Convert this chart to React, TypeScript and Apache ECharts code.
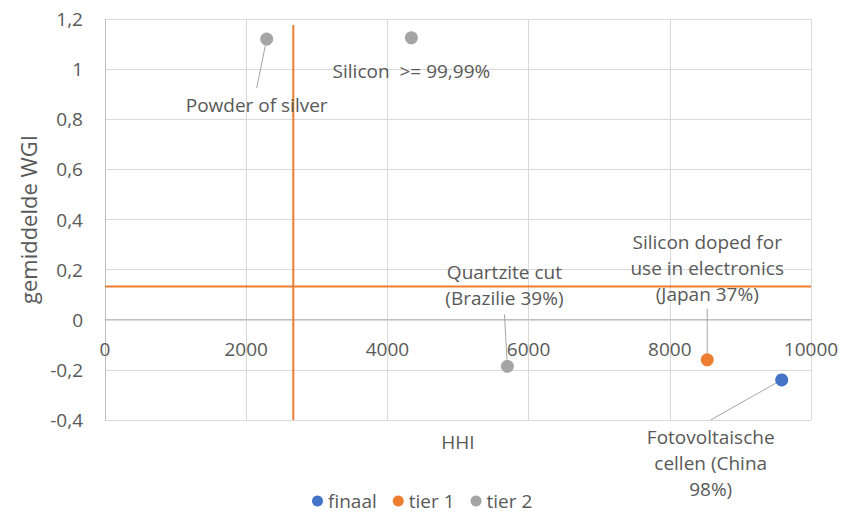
import React, { useEffect, useRef } from "react";
import * as echarts from "echarts";

// ---- data ----
const legendNames = ["finaal", "tier 1", "tier 2"];

const finaalNames = ["Fotovoltaische\ncellen (China\n98%)"];
const finaalHHI = [9585];
const finaalWGI = [-0.24];

const tier1Names = ["Silicon doped for\nuse in electronics\n(Japan 37%)"];
const tier1HHI = [8530];
const tier1WGI = [-0.16];

const tier2Names = ["Powder of silver", "Silicon  >= 99,99%", "Quartzite cut\n(Brazilie 39%)"];
const tier2HHI = [2290, 4340, 5700];
const tier2WGI = [1.12, 1.125, -0.186];

const thresholdHHI = 2667;
const thresholdWGI = 0.133;
const vLineWGI = [-0.4, 1.176];
const hLineHHI = [0, 10000];

const xMin = 0, xMax = 10000, xStep = 2000;
const yMin = -0.4, yMax = 1.2, yStep = 0.2;

// ---- layout / label placement (styles, not data) ----
type LabelCfg = { offset: number[]; padding: number[]; line: boolean };
const finaalLabels: LabelCfg[] = [{ offset: [-71, 83], padding: [8, 0, 0, 0], line: true }];
const tier1Labels: LabelCfg[] = [{ offset: [0, -92], padding: [0, 0, 4, 0], line: true }];
const tier2Labels: LabelCfg[] = [
  { offset: [-10, 66], padding: [8, 0, 0, 0], line: true },
  { offset: [0, 33], padding: [0, 0, 0, 0], line: false },
  { offset: [-3, -81], padding: [0, 0, 6, 0], line: true },
];

const W = 845, H = 515;
const GRID = { left: 105, right: 34, top: 19, bottom: 95 };

const FONT = "'Open Sans', sans-serif";
const TXT = "#595959";

function buildData(names: string[], xs: number[], ys: number[], cfg: LabelCfg[]) {
  return names.map((n, i) => ({
    name: n,
    value: [xs[i], ys[i]],
    label: { padding: cfg[i].padding },
    labelLine: { show: cfg[i].line },
  }));
}

const fmtNum = (v: number) => String(Number(v.toFixed(1))).replace(".", ",");
const fmtInt = (v: number) => String(Math.round(v));

export default function App() {
  const ref = useRef<HTMLDivElement>(null);
  useEffect(() => {
    if (!ref.current) return;
    const chart = echarts.init(ref.current, null, { renderer: "svg" });
    // second grid ends exactly at the zero line of the main y axis, so its x-axis labels sit on y = 0
    const plotH = H - GRID.top - GRID.bottom;
    const zeroFromTop = (yMax / (yMax - yMin)) * plotH;
    const labelGridBottom = H - GRID.top - zeroFromTop;

    const labelBase = {
      show: true,
      formatter: "{b}",
      position: "inside",
      color: TXT,
      fontSize: 19,
      fontFamily: FONT,
      lineHeight: 26,
      align: "center",
      backgroundColor: "rgba(255,255,255,0)",
    };
    const labelLineBase = { show: true, length2: 0, lineStyle: { color: "#a6a6a6", width: 1 } };
    const scatter = (name: string, color: string, data: any[], cfg: LabelCfg[]) => ({
      name,
      type: "scatter",
      symbol: "circle",
      symbolSize: 13,
      itemStyle: { color, opacity: 1 },
      label: labelBase,
      labelLine: labelLineBase,
      labelLayout: (p: any) => ({ dx: cfg[p.dataIndex].offset[0], dy: cfg[p.dataIndex].offset[1], hideOverlap: false }),
      data,
      z: 5,
    });
    chart.setOption({
      animation: false,
      textStyle: { fontFamily: FONT },
      grid: [
        { ...GRID, containLabel: false, outerBoundsMode: "none" },
        { left: GRID.left, right: GRID.right, top: GRID.top, bottom: labelGridBottom, containLabel: false, outerBoundsMode: "none" },
      ],
      legend: {
        data: legendNames,
        icon: "circle",
        itemWidth: 11,
        itemHeight: 11,
        itemGap: 16,
        left: 312,
        top: 491,
        padding: 0,
        textStyle: { color: TXT, fontSize: 19, fontFamily: FONT, lineHeight: 20 },
      },
      xAxis: [
        {
          gridIndex: 0,
          type: "value",
          min: xMin,
          max: xMax,
          interval: xStep,
          name: "HHI",
          nameLocation: "middle",
          nameGap: 12,
          nameTextStyle: { color: TXT, fontSize: 19, fontFamily: FONT, verticalAlign: "top" },
          axisLine: { show: false, onZero: false },
          axisTick: { show: false },
          axisLabel: { show: false },
          splitLine: { show: true, lineStyle: { color: "#d9d9d9", width: 1 } },
        },
        {
          gridIndex: 1,
          type: "value",
          min: xMin,
          max: xMax,
          interval: xStep,
          position: "bottom",
          axisLine: { show: true, onZero: false, lineStyle: { color: "#bfbfbf", width: 1 } },
          axisTick: { show: false },
          axisLabel: { color: TXT, fontSize: 19, fontFamily: FONT, margin: 20, formatter: fmtInt },
          splitLine: { show: false },
        },
      ],
      yAxis: [
        {
          gridIndex: 0,
          type: "value",
          min: yMin,
          max: yMax,
          interval: yStep,
          name: "gemiddelde WGI",
          nameLocation: "middle",
          nameGap: 65,
          nameTextStyle: { color: TXT, fontSize: 22, fontFamily: FONT },
          axisLine: { show: true, onZero: false, lineStyle: { color: "#bfbfbf", width: 1 } },
          axisTick: { show: false },
          axisLabel: { color: TXT, fontSize: 19, fontFamily: FONT, margin: 22, formatter: fmtNum },
          splitLine: { show: true, lineStyle: { color: "#d9d9d9", width: 1 } },
        },
        {
          gridIndex: 1,
          type: "value",
          min: 0,
          max: yMax,
          show: false,
          splitLine: { show: false },
        },
      ],
      series: [
        {
          name: "thresholdV",
          type: "line",
          symbol: "none",
          silent: true,
          lineStyle: { color: "#ED7D31", width: 2 },
          data: vLineWGI.map((y) => [thresholdHHI, y]),
          z: 3,
        },
        {
          name: "thresholdH",
          type: "line",
          symbol: "none",
          silent: true,
          lineStyle: { color: "#ED7D31", width: 2 },
          data: hLineHHI.map((x) => [x, thresholdWGI]),
          z: 3,
        },
        scatter("finaal", "#4472C4", buildData(finaalNames, finaalHHI, finaalWGI, finaalLabels), finaalLabels),
        scatter("tier 1", "#ED7D31", buildData(tier1Names, tier1HHI, tier1WGI, tier1Labels), tier1Labels),
        scatter("tier 2", "#A5A5A5", buildData(tier2Names, tier2HHI, tier2WGI, tier2Labels), tier2Labels),
      ],
    });
    return () => chart.dispose();
  }, []);
  return <div ref={ref} style={{ width: W, height: H, position: "absolute", left: 0, top: 0 }} />;
}
